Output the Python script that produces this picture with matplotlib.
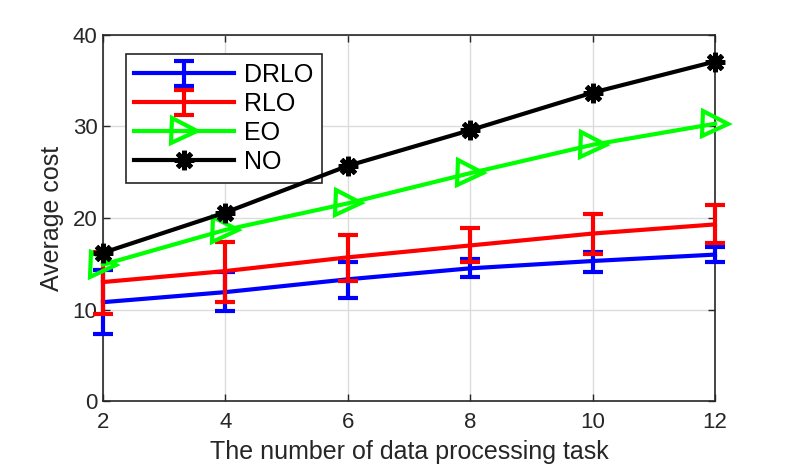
import numpy as np
import matplotlib.pyplot as plt

plt.rcParams['font.family'] = ['Liberation Sans', 'DejaVu Sans']

tasks = [2, 4, 6, 8, 10, 12]

drlo = [10.8, 11.9, 13.3, 14.5, 15.3, 16.0]
drlo_low = [7.3, 9.8, 11.3, 13.5, 14.1, 15.2]
drlo_high = [14.3, 14.1, 15.2, 15.5, 16.3, 16.8]

rlo = [13.0, 14.2, 15.7, 17.0, 18.3, 19.3]
rlo_low = [9.5, 10.8, 13.1, 15.2, 16.1, 17.3]
rlo_high = [16.3, 17.4, 18.1, 18.9, 20.4, 21.4]

eo = [14.9, 18.7, 21.6, 24.9, 28.0, 30.3]
no = [16.2, 20.6, 25.7, 29.6, 33.7, 37.1]

fig = plt.figure(figsize=(7.89, 4.71), dpi=100)
ax = fig.add_axes([0.1305, 0.1486, 0.7757, 0.7771])

def err(mid, low, high):
    mid = np.array(mid)
    return [mid - np.array(low), np.array(high) - mid]

h1 = ax.errorbar(tasks, drlo, yerr=err(drlo, drlo_low, drlo_high), color='#0000ff',
                 lw=3, elinewidth=3, capsize=7.5, capthick=3, label='DRLO', zorder=3)
h2 = ax.errorbar(tasks, rlo, yerr=err(rlo, rlo_low, rlo_high), color='#ff0000',
                 lw=3, elinewidth=3, capsize=7.5, capthick=3, label='RLO', zorder=4)
h3, = ax.plot(tasks, eo, color='#00ff00', lw=3, marker='>', ms=18, mfc='none',
              mew=3, label='EO', zorder=5)
h4, = ax.plot(tasks, no, color='black', lw=3, marker=(8, 2, 0), ms=14,
              mew=3.5, label='NO', zorder=6)

# MATLAB does not clip markers at the axes edge
for h in [h1, h2]:
    for art in h.lines[0:1] + tuple(h.lines[1]) + tuple(h.lines[2]):
        art.set_clip_on(False)
h3.set_clip_on(False)
h4.set_clip_on(False)

ax.set_xlim(2, 12)
ax.set_ylim(0, 40)
ax.set_xticks(tasks)
ax.set_yticks([0, 10, 20, 30, 40])
ax.grid(True, color='#dcdcdc', lw=1)
ax.set_axisbelow(True)
ax.tick_params(direction='in', top=True, right=True, labelsize=16,
               colors='#262626', length=5, width=1)
ax.tick_params(axis='x', pad=8)
ax.tick_params(axis='y', pad=4)
for s in ax.spines.values():
    s.set_color('#262626')
    s.set_linewidth(1.2)

ax.set_xlabel('The number of data processing task', fontsize=18, color='#262626', labelpad=5)
ax.set_ylabel('Average cost', fontsize=18, color='#262626', labelpad=6)

leg = ax.legend(handles=[h1, h2, h3, h4], loc='upper left',
                bbox_to_anchor=(0.037, 0.948), fontsize=18,
                fancybox=False, edgecolor='#262626', framealpha=1,
                handlelength=4.0, handletextpad=0.4, labelspacing=0.2,
                borderpad=0.35, borderaxespad=0)
leg.get_frame().set_linewidth(1.2)

fig.savefig('out.png', dpi=100)
